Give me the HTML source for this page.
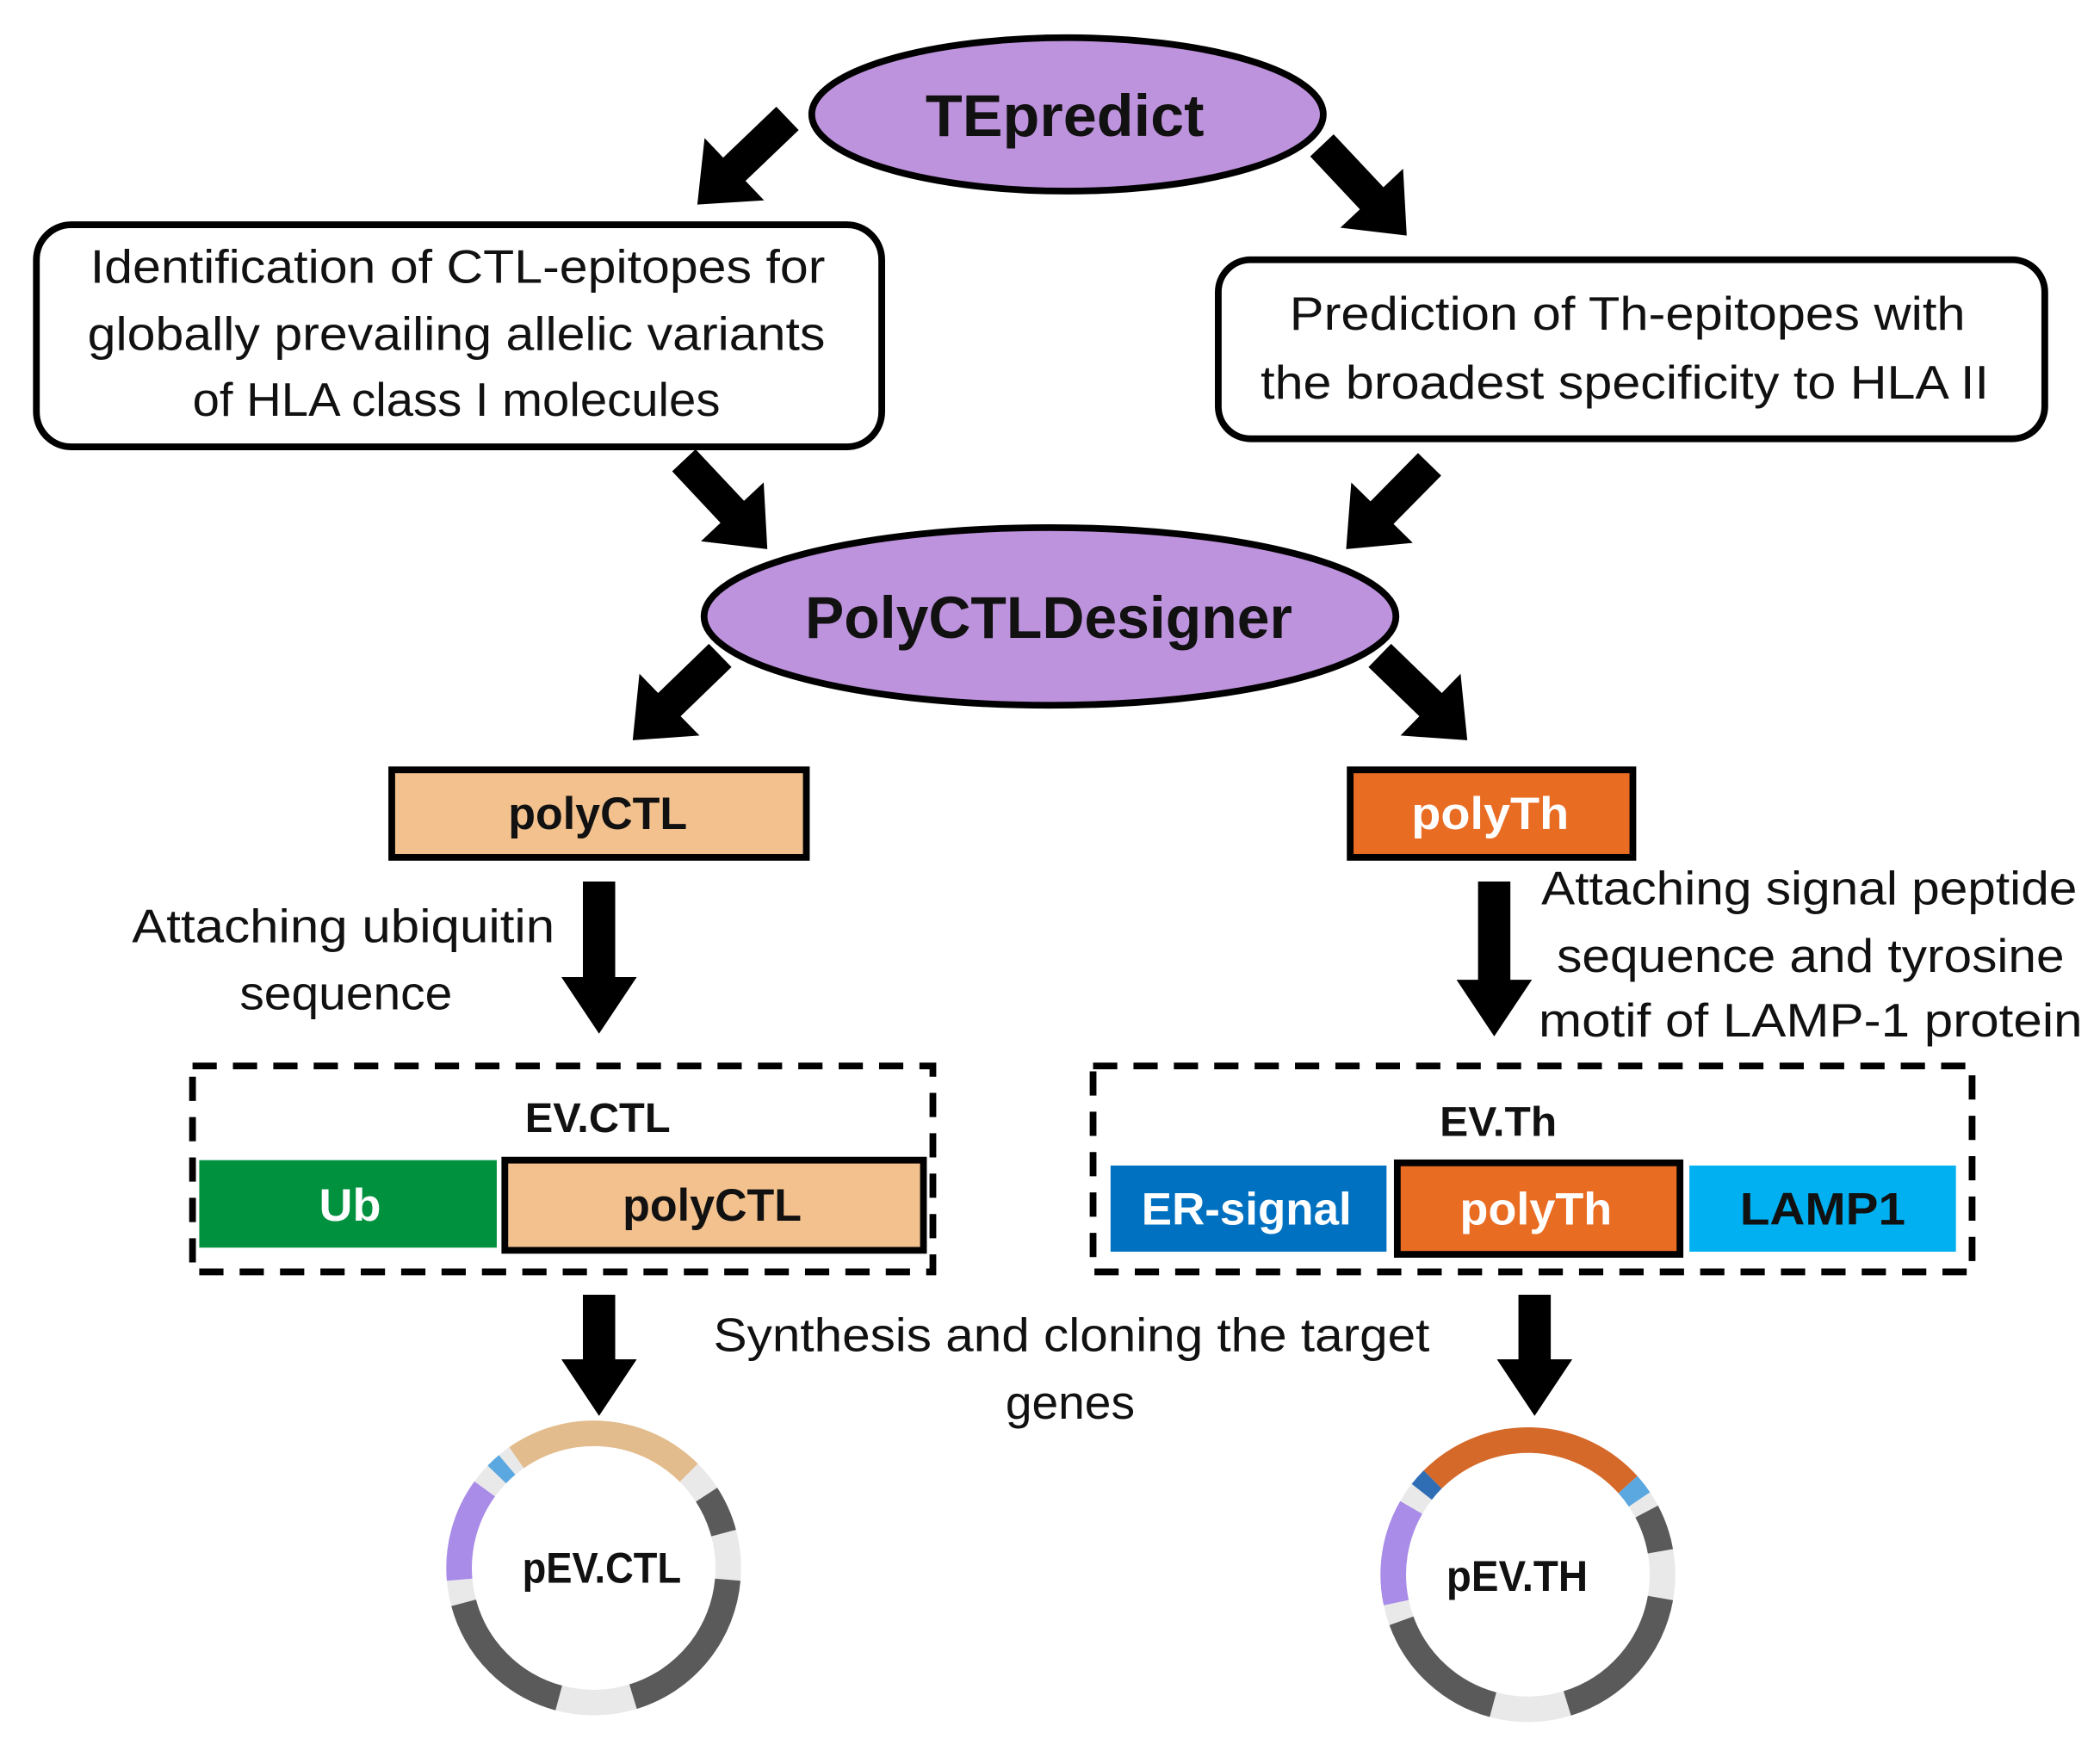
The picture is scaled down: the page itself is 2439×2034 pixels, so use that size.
<!DOCTYPE html>
<html><head><meta charset="utf-8"><style>
html,body{margin:0;padding:0;background:#fff;}
svg{display:block;}
text{font-family:"Liberation Sans",sans-serif;fill:#111;}
</style></head><body>
<svg id="s" width="2439" height="2034" viewBox="0 0 1560 1301" xmlns="http://www.w3.org/2000/svg">
<rect width="1560" height="1301" fill="#fff"/>
<!-- TEpredict -->
<ellipse cx="793" cy="85" rx="190" ry="57" fill="#BE93DD" stroke="#000" stroke-width="5"/>
<text x="791" y="101" font-size="44" font-weight="bold" text-anchor="middle" textLength="207" lengthAdjust="spacingAndGlyphs">TEpredict</text>
<!-- left box -->
<rect x="27" y="167" width="628" height="165" rx="26" fill="#fff" stroke="#000" stroke-width="5"/>
<text x="340" y="210" font-size="35" text-anchor="middle" textLength="546" lengthAdjust="spacingAndGlyphs">Identification of CTL-epitopes for</text>
<text x="339" y="260" font-size="35" text-anchor="middle" textLength="548" lengthAdjust="spacingAndGlyphs">globally prevailing allelic variants</text>
<text x="339" y="309" font-size="35" text-anchor="middle" textLength="392" lengthAdjust="spacingAndGlyphs">of HLA class I molecules</text>
<!-- right box -->
<rect x="905" y="193" width="614" height="133" rx="24" fill="#fff" stroke="#000" stroke-width="5"/>
<text x="1209" y="245" font-size="35" text-anchor="middle" textLength="502" lengthAdjust="spacingAndGlyphs">Prediction of Th-epitopes with</text>
<text x="1207" y="296" font-size="35" text-anchor="middle" textLength="541" lengthAdjust="spacingAndGlyphs">the broadest specificity to HLA II</text>
<!-- PolyCTLDesigner -->
<ellipse cx="780" cy="458" rx="257" ry="66" fill="#BE93DD" stroke="#000" stroke-width="5"/>
<text x="779" y="474" font-size="44" font-weight="bold" text-anchor="middle" textLength="362" lengthAdjust="spacingAndGlyphs">PolyCTLDesigner</text>
<!-- polyCTL / polyTh -->
<rect x="291" y="572" width="308" height="65" fill="#F2C18D" stroke="#000" stroke-width="5"/>
<text x="444" y="616" font-size="34" font-weight="bold" text-anchor="middle" textLength="133" lengthAdjust="spacingAndGlyphs">polyCTL</text>
<rect x="1003" y="572" width="210" height="65" fill="#E96C23" stroke="#000" stroke-width="5"/>
<text x="1107" y="616" font-size="34" font-weight="bold" text-anchor="middle" textLength="117" lengthAdjust="spacingAndGlyphs" style="fill:#fff">polyTh</text>
<!-- labels -->
<text x="255" y="700" font-size="35" text-anchor="middle" textLength="314" lengthAdjust="spacingAndGlyphs">Attaching ubiquitin</text>
<text x="257" y="750" font-size="35" text-anchor="middle" textLength="158" lengthAdjust="spacingAndGlyphs">sequence</text>
<text x="1344" y="672" font-size="35" text-anchor="middle" textLength="398" lengthAdjust="spacingAndGlyphs">Attaching signal peptide</text>
<text x="1345" y="722" font-size="35" text-anchor="middle" textLength="377" lengthAdjust="spacingAndGlyphs">sequence and tyrosine</text>
<text x="1345" y="770" font-size="35" text-anchor="middle" textLength="404" lengthAdjust="spacingAndGlyphs">motif of LAMP-1 protein</text>
<!-- EV.CTL -->
<rect x="143" y="792" width="550" height="153" fill="none" stroke="#000" stroke-width="5" stroke-dasharray="18,12"/>
<text x="444" y="841" font-size="31" font-weight="bold" text-anchor="middle" textLength="108" lengthAdjust="spacingAndGlyphs">EV.CTL</text>
<rect x="148" y="862" width="221" height="65" fill="#00913F"/>
<text x="260" y="907" font-size="34" font-weight="bold" text-anchor="middle" textLength="46" lengthAdjust="spacingAndGlyphs" style="fill:#fff">Ub</text>
<rect x="375" y="862" width="311" height="67" fill="#F2C18D" stroke="#000" stroke-width="5"/>
<text x="529" y="907" font-size="34" font-weight="bold" text-anchor="middle" textLength="133" lengthAdjust="spacingAndGlyphs">polyCTL</text>
<!-- EV.Th -->
<rect x="812" y="792" width="653" height="153" fill="none" stroke="#000" stroke-width="5" stroke-dasharray="18,12"/>
<text x="1113" y="844" font-size="31" font-weight="bold" text-anchor="middle" textLength="87" lengthAdjust="spacingAndGlyphs">EV.Th</text>
<rect x="825" y="866" width="205" height="64" fill="#0070C0"/>
<text x="926" y="910" font-size="34" font-weight="bold" text-anchor="middle" textLength="156" lengthAdjust="spacingAndGlyphs" style="fill:#fff">ER-signal</text>
<rect x="1038" y="864" width="210" height="68" fill="#E96C23" stroke="#000" stroke-width="5"/>
<text x="1141" y="910" font-size="34" font-weight="bold" text-anchor="middle" textLength="113" lengthAdjust="spacingAndGlyphs" style="fill:#fff">polyTh</text>
<rect x="1255" y="866" width="198" height="64" fill="#00B0F0"/>
<text x="1354" y="910" font-size="34" font-weight="bold" text-anchor="middle" textLength="123" lengthAdjust="spacingAndGlyphs">LAMP1</text>
<!-- synthesis -->
<text x="796" y="1004" font-size="35" text-anchor="middle" textLength="532" lengthAdjust="spacingAndGlyphs">Synthesis and cloning the target</text>
<text x="795" y="1054" font-size="35" text-anchor="middle" textLength="96" lengthAdjust="spacingAndGlyphs">genes</text>
<g id="arrows" fill="#000"></g>
<g id="plas"></g>
<text x="447" y="1176" font-size="32" font-weight="bold" text-anchor="middle" textLength="118" lengthAdjust="spacingAndGlyphs">pEV.CTL</text>
<text x="1127" y="1182" font-size="32" font-weight="bold" text-anchor="middle" textLength="105" lengthAdjust="spacingAndGlyphs">pEV.TH</text>
</svg>
<script>
var NS="http://www.w3.org/2000/svg";
function arrow(x1,y1,x2,y2,sw,hw,hl){
 var dx=x2-x1,dy=y2-y1,L=Math.hypot(dx,dy),ux=dx/L,uy=dy/L,px=-uy,py=ux;
 var bx=x2-ux*hl,by=y2-uy*hl;
 var p=[[x1+px*sw/2,y1+py*sw/2],[bx+px*sw/2,by+py*sw/2],[bx+px*hw/2,by+py*hw/2],[x2,y2],[bx-px*hw/2,by-py*hw/2],[bx-px*sw/2,by-py*sw/2],[x1-px*sw/2,y1-py*sw/2]];
 var e=document.createElementNS(NS,"polygon");
 e.setAttribute("points",p.map(function(q){return q[0].toFixed(1)+","+q[1].toFixed(1)}).join(" "));
 document.getElementById("arrows").appendChild(e);
}
arrow(585,88,518,152,24,64,38);
arrow(982,108,1045,175,24,64,38);
arrow(508,342,570,408,24,64,38);
arrow(1062,345,1000,408,24,64,38);
arrow(535,487,470,550,24,64,38);
arrow(1025,487,1090,550,24,64,38);
arrow(445,655,445,768,24,56,42);
arrow(1110,655,1110,770,24,56,42);
arrow(445,962,445,1052,24,56,42);
arrow(1140,962,1140,1052,24,56,42);
function arc(cx,cy,r,a1,a2,col){
 function pt(a){var t=a*Math.PI/180;return [cx+r*Math.sin(t),cy-r*Math.cos(t)];}
 var s=pt(a1),e=pt(a2),lg=((a2-a1+360)%360)>180?1:0;
 var p=document.createElementNS(NS,"path");
 p.setAttribute("d","M"+s[0]+","+s[1]+" A"+r+","+r+" 0 "+lg+" 1 "+e[0]+","+e[1]);
 p.setAttribute("fill","none");p.setAttribute("stroke",col);p.setAttribute("stroke-width","19");
 document.getElementById("plas").appendChild(p);
}
var LG="#E9E9E9",DG="#5A5A5A";
function plasmid(cx,cy,segs){segs.forEach(function(s){arc(cx,cy,100,s[0],s[1],s[2]);});}
plasmid(441,1165,[[-35,45,"#E2BC8C"],[45,57,LG],[57,75,DG],[75,95,LG],[95,163,DG],[163,195,LG],[195,255,DG],[255,265,LG],[265,306,"#A98BE8"],[306,314,LG],[314,320,"#5BA7E0"],[320,325,LG]]);
plasmid(1135,1170,[[-45,48,"#D4692A"],[48,56,"#5BA7E0"],[56,62,LG],[62,80,DG],[80,100,LG],[100,163,DG],[163,195,LG],[195,250,DG],[250,258,LG],[258,300,"#A98BE8"],[300,308,LG],[308,315,"#2F6DB5"]]);
</script>
</body></html>
